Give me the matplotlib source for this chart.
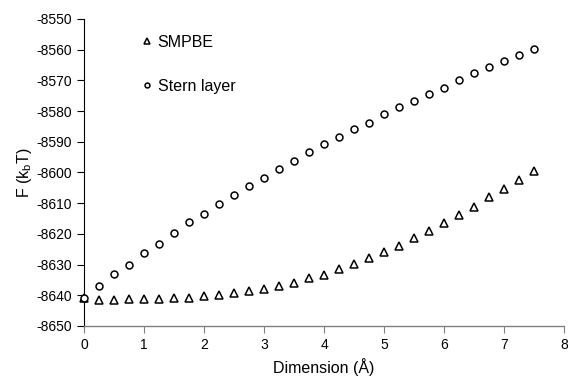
import matplotlib
matplotlib.use('Agg')
import matplotlib.pyplot as plt
import numpy as np

plt.rcParams['font.family'] = ['Liberation Sans', 'DejaVu Sans']
plt.rcParams['mathtext.fontset'] = 'custom'
plt.rcParams['mathtext.rm'] = 'Liberation Sans'
plt.rcParams['axes.unicode_minus'] = False

# Data
dimension = [0, 0.25, 0.5, 0.75, 1.0, 1.25, 1.5, 1.75, 2.0, 2.25, 2.5, 2.75, 3.0,
             3.25, 3.5, 3.75, 4.0, 4.25, 4.5, 4.75, 5.0, 5.25, 5.5, 5.75, 6.0,
             6.25, 6.5, 6.75, 7.0, 7.25, 7.5]
smpbe = [-8640.8, -8641.4, -8641.4, -8641.2, -8641.2, -8641.2, -8640.9, -8640.9,
         -8640.3, -8639.9, -8639.3, -8638.6, -8638.0, -8637.0, -8636.0, -8634.5,
         -8633.4, -8631.6, -8629.9, -8627.8, -8625.9, -8623.8, -8621.5, -8619.1,
         -8616.4, -8613.8, -8611.1, -8608.0, -8605.3, -8602.4, -8599.5]
stern = [-8640.8, -8637.0, -8633.1, -8630.0, -8626.3, -8623.3, -8619.7, -8616.3,
         -8613.6, -8610.3, -8607.5, -8604.5, -8601.9, -8598.9, -8596.3, -8593.4,
         -8590.8, -8588.4, -8585.7, -8583.8, -8581.0, -8578.7, -8576.7, -8574.4,
         -8572.4, -8570.0, -8567.7, -8565.6, -8563.7, -8561.9, -8559.7]

fig = plt.figure(figsize=(5.68, 3.79), dpi=100)
ax = fig.add_axes([0.148, 0.140, 0.845, 0.810])

ax.plot(dimension, smpbe, linestyle='none', marker='^', markersize=5.5,
        markerfacecolor='white', markeredgecolor='black', markeredgewidth=1.1,
        label='SMPBE', clip_on=False, zorder=3)
ax.plot(dimension, stern, linestyle='none', marker='o', markersize=5,
        markerfacecolor='white', markeredgecolor='black', markeredgewidth=1.1,
        label='Stern layer', clip_on=False, zorder=3)

ax.set_xlim(0, 8)
ax.set_ylim(-8650, -8550)
ax.set_xticks(np.arange(0, 9, 1))
ax.set_yticks(np.arange(-8650, -8549, 10))
ax.spines['top'].set_visible(False)
ax.spines['right'].set_visible(False)
ax.spines['left'].set_linewidth(0.8)
ax.spines['bottom'].set_color('#808080')
ax.spines['bottom'].set_linewidth(1.0)
ax.tick_params(axis='both', direction='out', length=5, width=0.8, labelsize=10)
ax.tick_params(axis='x', color='#808080', pad=4)

ax.set_xlabel('Dimension (Å)', fontsize=11.5, labelpad=4)
ax.set_ylabel('F (k$_\\mathrm{b}$T)', fontsize=11.5, labelpad=2)

leg = ax.legend(loc='upper left', bbox_to_anchor=(0.085, 0.995), frameon=False,
                fontsize=11.5, labelspacing=1.8, handletextpad=0.15,
                handlelength=1.0, markerscale=0.7)

fig.savefig('out.png', dpi=100)
